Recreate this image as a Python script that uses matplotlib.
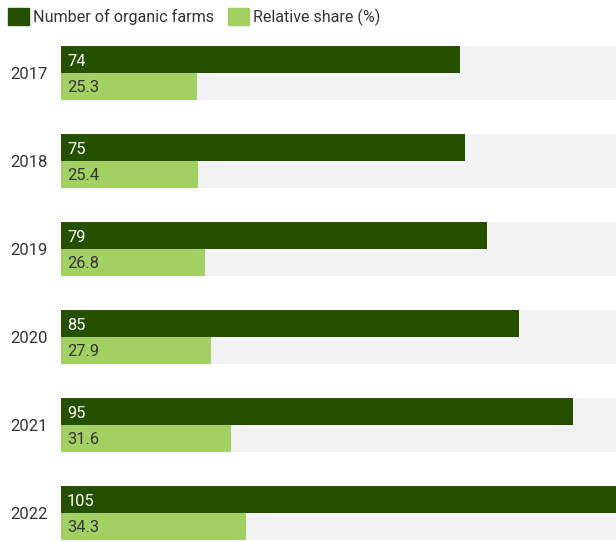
import matplotlib.pyplot as plt
from matplotlib.patches import Patch
import numpy as np

plt.rcParams['font.family'] = ['Roboto', 'DejaVu Sans']

years = ['2017', '2018', '2019', '2020', '2021', '2022']
farms = [74, 75, 79, 85, 95, 105]
share = [25.3, 25.4, 26.8, 27.9, 31.6, 34.3]
farms_labels = ['74', '75', '79', '85', '95', '105']
share_labels = ['25.3', '25.4', '26.8', '27.9', '31.6', '34.3']

dark = '#245000'
light = '#a3d063'
band = '#f2f2f2'

W, H = 616, 542
fig = plt.figure(figsize=(W / 100, H / 100), dpi=100)
# axes from x=61px to right edge, y from 40px to bottom
ax = fig.add_axes([61 / W, 0, 1 - 61 / W, 1 - 40 / H])

xmax = 103
bh = 27 / 88  # bar height in category units
y = np.arange(len(years))

ax.barh(y, xmax, height=2 * bh, color=band, zorder=0)
ax.barh(y - bh / 2, farms, height=bh, color=dark, zorder=2)
ax.barh(y + bh / 2, share, height=bh, color=light, zorder=2)

for i in range(len(years)):
    ax.text(1.1, y[i] - bh / 2, farms_labels[i], color='white', fontsize=11.8,
            va='center_baseline', ha='left', zorder=3)
    ax.text(1.1, y[i] + bh / 2, share_labels[i], color='#333333', fontsize=11.8,
            va='center_baseline', ha='left', zorder=3)

ax.set_xlim(0, xmax)
ax.set_ylim(len(years) - 1 + 29 / 88, -33 / 88)
ax.set_yticks(y)
ax.set_yticklabels(years, fontsize=12, color='#333333')
ax.tick_params(axis='y', length=0, pad=9.5)
ax.set_xticks([])
for s in ax.spines.values():
    s.set_visible(False)

handles = [Patch(color=dark, label='Number of organic farms'),
           Patch(color=light, label='Relative share (%)')]
fig.legend(handles=handles, loc='upper left', bbox_to_anchor=(0.0, 1.0),
           ncol=2, frameon=False, fontsize=11.6, handlelength=1.27,
           handleheight=1.27, handletextpad=0.3, columnspacing=0.85,
           borderaxespad=0.1, labelcolor='#333333')

fig.savefig('out.png', dpi=100)
